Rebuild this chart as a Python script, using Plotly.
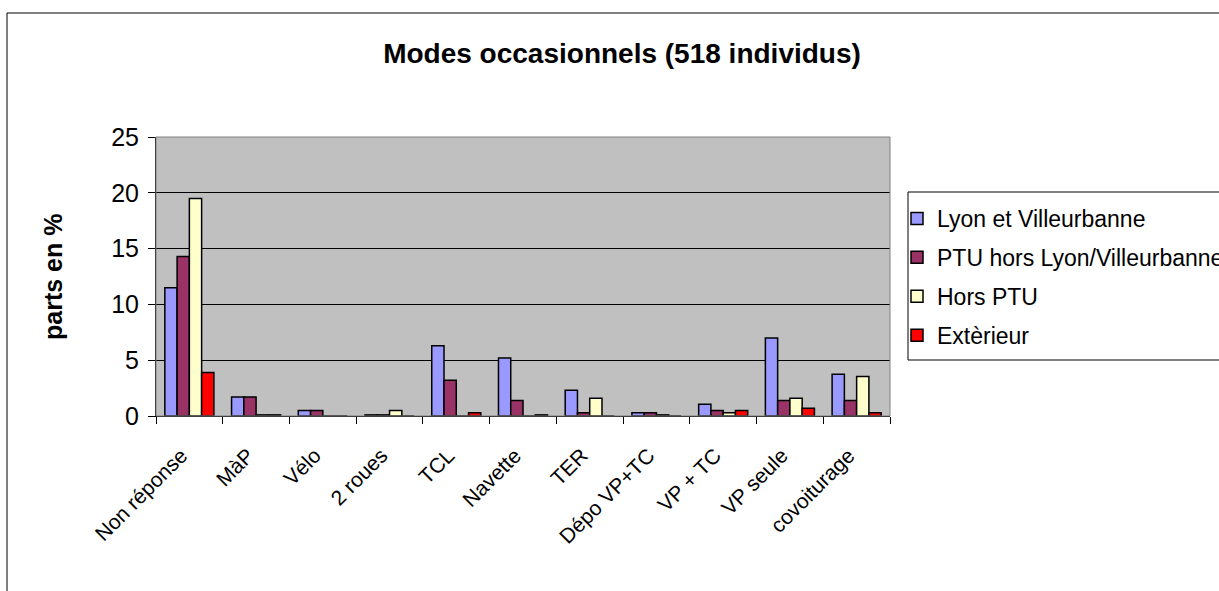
import plotly.graph_objects as go

categories = ["Non réponse", "MàP", "Vélo", "2 roues", "TCL", "Navette", "TER",
              "Dépo VP+TC", "VP + TC", "VP seule", "covoiturage"]
series_names = ["Lyon et Villeurbanne", "PTU hors Lyon/Villeurbanne", "Hors PTU", "Extèrieur"]
lyon = [11.5, 1.7, 0.5, 0.1, 6.3, 5.2, 2.3, 0.3, 1.05, 7.0, 3.75]
ptu = [14.3, 1.7, 0.5, 0.1, 3.2, 1.4, 0.3, 0.3, 0.5, 1.4, 1.4]
hors_ptu = [19.5, 0.1, 0, 0.5, 0, 0, 1.6, 0.1, 0.3, 1.6, 3.55]
exterieur = [3.9, 0.1, 0, 0, 0.3, 0.1, 0, 0, 0.5, 0.7, 0.3]
y_ticks = [0, 5, 10, 15, 20, 25]
colors = ["#9999FF", "#993366", "#FFFFCC", "#FF0000"]

FONT = "Liberation Sans, Arial, sans-serif"
W, H = 1219, 591
L, R, T, B = 156, 890, 137, 416

fig = go.Figure()
for i, (name, vals) in enumerate(zip(series_names, [lyon, ptu, hors_ptu, exterieur])):
    fig.add_trace(go.Bar(
        x=categories, y=vals, name=name, legendgroup=name,
        marker=dict(color=colors[i], line=dict(color="black", width=1.5)),
    ))

pw, ph = R - L, B - T
def px(x):
    return (x - L) / pw
def py(y):
    return (B - y) / ph

fig.update_layout(
    width=W, height=H,
    margin=dict(l=L, r=W - R, t=T, b=H - B, autoexpand=False),
    paper_bgcolor="white", plot_bgcolor="#C0C0C0",
    barmode="group", bargap=0.265, bargroupgap=0,
    font=dict(family=FONT, color="black"),
    title=dict(text="<b>Modes occasionnels (518 individus)</b>", x=622 / W, xanchor="center",
               y=1 - 53 / H, yanchor="middle", font=dict(size=28, family=FONT)),
    xaxis=dict(type="category", tickangle=-45, tickfont=dict(size=21), ticks="outside",
               tickson="boundaries", ticklen=7, tickcolor="black", showline=True,
               linecolor="black", linewidth=1, showgrid=False, range=[-0.5, 10.5],
               ticklabelstandoff=18, ticklabelshift=-8),
    yaxis=dict(range=[0, 25], tickvals=y_ticks, tickfont=dict(size=25), ticks="outside",
               ticklen=7, tickcolor="black", showline=True, linecolor="black", linewidth=1,
               showgrid=True, gridcolor="black", gridwidth=1, zeroline=False,
               ticklabelstandoff=4),
    legend=dict(x=px(897), y=py(197), xanchor="left", yanchor="top",
                bgcolor="rgba(0,0,0,0)", borderwidth=0,
                font=dict(size=23, family=FONT), traceorder="grouped",
                tracegroupgap=6, itemwidth=30),
    showlegend=True,
    shapes=[dict(type="rect", xref="paper", yref="paper",
                 x0=px(7), x1=px(1230), y0=py(13), y1=py(620),
                 line=dict(color="black", width=1), layer="below"),
            dict(type="rect", xref="paper", yref="paper", x0=0, x1=1, y0=0, y1=1,
                 line=dict(color="#808080", width=1)),
            dict(type="rect", xref="paper", yref="paper",
                 x0=px(908), x1=px(1230), y0=py(192), y1=py(360),
                 fillcolor="white", line=dict(color="black", width=1), layer="above")],
    annotations=[dict(text="<b>parts en %</b>", xref="paper", yref="paper",
                      x=px(53), y=py(277), textangle=-90, showarrow=False,
                      font=dict(size=25, family=FONT), xanchor="center", yanchor="middle")],
)

fig.write_html("out.html", post_script="document.body.style.margin='0';",
               config={"displayModeBar": False})
